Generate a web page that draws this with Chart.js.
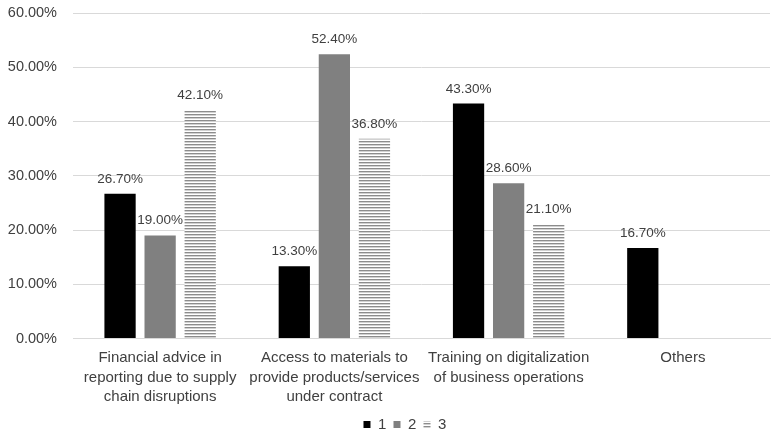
<!DOCTYPE html>
<html>
<head>
<meta charset="utf-8">
<script src="https://cdn.jsdelivr.net/npm/chart.js@4/dist/chart.umd.min.js"></script>
<style>
  html, body { margin: 0; padding: 0; background: #fff; }
  #wrap { width: 782px; height: 437px; }
</style>
</head>
<body>
<div id="wrap"><canvas id="c" width="782" height="437"></canvas></div>
<script>
'use strict';

// categories and series values (percent)
const categories = [
  ['Financial advice in', 'reporting due to supply', 'chain disruptions'],
  ['Access to materials to', 'provide products/services', 'under contract'],
  ['Training on digitalization', 'of business operations'],
  'Others'
];
const series1 = [26.7, 13.3, 43.3, 16.7];
const series2 = [19.0, 52.4, 28.6, null];
const series3 = [42.1, 36.8, 21.1, null];
const seriesNames = ['1', '2', '3'];
const yTicks = [0, 10, 20, 30, 40, 50, 60];

const FONT = '"Liberation Sans", Arial, sans-serif';

// horizontal stripe fill for the third series
function stripes(){
  let cv = document.createElement('canvas');
  cv.width = 4; cv.height = 3;
  let g = cv.getContext('2d');
  g.fillStyle = '#ffffff';
  g.fillRect(0, 0, 4, 3);
  g.fillStyle = '#8c8c8c';
  g.fillRect(0, 0, 4, 1.4);
  return g.createPattern(cv, 'repeat');
}

// writes the value above every bar
const valueLabels = {
  id: 'valueLabels',
  afterDatasetsDraw(chart){
    let ctx = chart.ctx;
    ctx.save();
    ctx.font = '13.5px ' + FONT;
    ctx.fillStyle = '#404040';
    ctx.textAlign = 'center';
    ctx.textBaseline = 'bottom';
    chart.data.datasets.forEach(function(ds, i){
      chart.getDatasetMeta(i).data.forEach(function(bar, j){
        if (ds.data[j] == null) return;
        ctx.fillText(ds.data[j].toFixed(2) + '%', bar.x, bar.y - 8);
      });
    });
    ctx.restore();
  }
};

// nudge the legend lower and under the middle of the plot
const legendShift = {
  id: 'legendShift',
  afterLayout(chart){
    if (chart.legend){
      chart.legend.top += 5;
      chart.legend.bottom += 5;
      chart.legend.left += 22;
      chart.legend.right += 22;
    }
  }
};

const fills = ['#000000', '#808080', stripes()];

const config = {
  type: 'bar',
  data: {
    labels: categories,
    datasets: [series1, series2, series3].map(function(vals, i){
      return {
        label: seriesNames[i],
        data: vals,
        backgroundColor: fills[i],
        borderWidth: 0,
        categoryPercentage: 0.69,
        barPercentage: 0.78
      };
    })
  },
  options: {
    responsive: false,
    animation: false,
    layout: { padding: { left: 0, right: 12, top: 13, bottom: 0 } },
    scales: {
      x: {
        grid: { display: false },
        border: { color: '#d9d9d9', width: 1 },
        ticks: {
          color: '#404040',
          padding: 2,
          font: { size: 15, family: FONT, lineHeight: 1.3 },
          maxRotation: 0,
          autoSkip: false
        }
      },
      y: {
        min: 0,
        max: 60,
        afterBuildTicks(axis){ axis.ticks = yTicks.map(function(v){ return {value: v}; }); },
        afterFit(axis){ axis.width = 73; axis.paddingTop = 0; },
        grid: { color: '#d9d9d9', drawTicks: false },
        border: { display: false },
        ticks: {
          color: '#404040',
          padding: 16,
          font: { size: 14.5, family: FONT },
          callback: function(v){ return v.toFixed(2) + '%'; }
        }
      }
    },
    plugins: {
      legend: {
        position: 'bottom',
        labels: {
          color: '#404040',
          boxWidth: 7,
          boxHeight: 7,
          padding: 3,
          font: { size: 15, family: FONT },
          generateLabels(chart){
            let items = Chart.defaults.plugins.legend.labels.generateLabels(chart);
            items.forEach(function(it){ it.text = it.text + ' '; });
            return items;
          }
        }
      },
      tooltip: { enabled: false }
    }
  },
  plugins: [valueLabels, legendShift]
};

new Chart(document.getElementById('c'), config);
</script>
</body>
</html>
